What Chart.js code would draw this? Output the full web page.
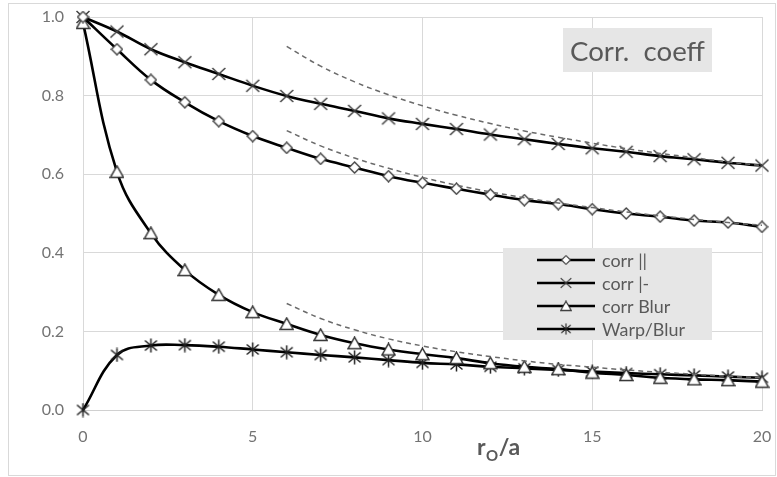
<!DOCTYPE html>
<html><head><meta charset="utf-8">
<script src="https://cdn.jsdelivr.net/npm/chart.js@4/dist/chart.umd.min.js"></script>
<style>html,body{margin:0;padding:0;background:#fff}#c{display:block}</style>
</head><body>
<canvas id="c" width="777" height="477"></canvas>
<script>
// ---- data ----
const xValues = [0,1,2,3,4,5,6,7,8,9,10,11,12,13,14,15,16,17,18,19,20];
const corrPar  = [1.0,0.918,0.840,0.783,0.735,0.697,0.667,0.639,0.617,0.595,0.578,0.563,0.548,0.534,0.524,0.511,0.500,0.492,0.482,0.477,0.466];
const corrPerp = [1.0,0.963,0.918,0.885,0.855,0.825,0.799,0.779,0.761,0.742,0.728,0.715,0.701,0.689,0.677,0.666,0.657,0.646,0.638,0.629,0.622];
const corrBlur = [0.985,0.606,0.450,0.356,0.293,0.249,0.219,0.191,0.170,0.154,0.142,0.132,0.119,0.110,0.104,0.095,0.089,0.082,0.078,0.076,0.072];
const warpBlur = [0.0,0.140,0.164,0.165,0.161,0.154,0.147,0.140,0.134,0.127,0.120,0.116,0.110,0.106,0.102,0.098,0.094,0.091,0.088,0.085,0.082];
const asymX    = [6,7,8,9,10,11,12,13,14,15,16,17,18,19,20];
const asymPerp = [0.925,0.875,0.835,0.802,0.774,0.750,0.729,0.710,0.694,0.679,0.665,0.653,0.642,0.631,0.622];
const asymPar  = [0.711,0.672,0.641,0.615,0.592,0.572,0.555,0.540,0.527,0.515,0.504,0.494,0.485,0.477,0.470];
const asymBlur = [0.271,0.233,0.204,0.181,0.163,0.148,0.136,0.125,0.116,0.109,0.102,0.096,0.091,0.086,0.082];
const seriesNames = ['corr ||','corr |-','corr Blur','Warp/Blur'];
const yTickValues = [0,0.2,0.4,0.6,0.8,1.0];
const xTickValues = [0,5,10,15,20];
const chartTitle = 'Corr.  coeff';

// ---- marker images ----
function mk(w,h,draw){const c=document.createElement('canvas');c.width=w;c.height=h;const g=c.getContext('2d');draw(g);return c;}
const mDiamond = mk(13,13,g=>{g.beginPath();g.moveTo(6.5,1);g.lineTo(12,6.5);g.lineTo(6.5,12);g.lineTo(1,6.5);g.closePath();g.fillStyle='#fff';g.fill();g.strokeStyle='#404040';g.lineWidth=1.4;g.stroke();});
const mCross = mk(16,16,g=>{g.strokeStyle='#404040';g.lineWidth=1.5;g.beginPath();g.moveTo(1.5,2);g.lineTo(14.5,14);g.moveTo(14.5,2);g.lineTo(1.5,14);g.stroke();});
const mTri = mk(15,14,g=>{g.beginPath();g.moveTo(7.5,1);g.lineTo(14,12.5);g.lineTo(1,12.5);g.closePath();g.fillStyle='#fff';g.fill();g.strokeStyle='#303030';g.lineWidth=1.5;g.stroke();});
const mStar = mk(15,15,g=>{g.strokeStyle='#202020';g.lineWidth=1.5;g.beginPath();g.moveTo(7.5,0.5);g.lineTo(7.5,14.5);g.moveTo(1.5,2.5);g.lineTo(13.5,12.5);g.moveTo(13.5,2.5);g.lineTo(1.5,12.5);g.stroke();});
const markers = [mDiamond,mCross,mTri,mStar];

const pts = (xs,ys)=>xs.map((x,i)=>({x:x,y:ys[i]}));
function solid(label,ys,marker){return {label:label,data:pts(xValues,ys),borderColor:'#000',borderWidth:2.6,pointStyle:marker,pointRadius:6,tension:0.4,clip:false,order:1};}
function dashed(ys){return {label:'',data:pts(asymX,ys),borderColor:'#6a6a6a',borderWidth:1.5,borderDash:[5,4],pointRadius:0,tension:0.4,clip:false,order:0};}

function fitSize(c,text,weight,family,target){
  c.font=weight+' 20px '+family;const w=c.measureText(text).width;return 20*target/w;
}

const deco = {
  id:'deco',
  beforeDraw(chart){
    const c=chart.ctx;c.save();c.fillStyle='#fff';c.fillRect(0,0,chart.width,chart.height);
    c.strokeStyle='#d9d9d9';c.lineWidth=1;c.strokeRect(8.5,3.5,767,472);c.restore();
  },
  afterDraw(chart){
    const c=chart.ctx;c.save();
    c.textAlign='left';
    // title box
    c.fillStyle='#e6e6e6';c.fillRect(563,28,149,44);
    const ts=Math.min(30,fitSize(c,chartTitle,'normal','Lato',135));
    c.fillStyle='#595959';c.font=ts.toFixed(2)+'px Lato';c.textBaseline='alphabetic';
    c.fillText(chartTitle,570,61);
    // legend box
    c.fillStyle='#e6e6e6';c.fillRect(503,248,209,92);
    const ls=Math.min(20,fitSize(c,'Warp/Blur','normal','Lato',83));
    const rows=[260,283,306,329];
    for(let i=0;i<4;i++){
      const y=rows[i];
      c.strokeStyle='#000';c.lineWidth=2.6;c.beginPath();c.moveTo(537,y);c.lineTo(595,y);c.stroke();
      const m=markers[i];const s=0.8;
      c.drawImage(m,566-m.width*s/2,y-m.height*s/2,m.width*s,m.height*s);
      c.fillStyle='#595959';c.font=ls.toFixed(2)+'px Lato';c.textBaseline='middle';
      c.fillText(seriesNames[i],602,y+1);
    }
    // axis title r_O/a
    c.fillStyle='#595959';c.textBaseline='alphabetic';
    c.font='bold 23px Lato';c.fillText('r',477,455);
    let x=477+c.measureText('r').width+0.5;
    c.font='bold 15px Lato';c.fillText('O',x,461);
    x+=c.measureText('O').width+0.5;
    c.font='bold 23px Lato';c.fillText('/a',x,455);
    c.restore();
  }
};

new Chart(document.getElementById('c'),{
  type:'line',
  data:{datasets:[
    solid(seriesNames[0],corrPar,mDiamond),
    solid(seriesNames[1],corrPerp,mCross),
    solid(seriesNames[2],corrBlur,mTri),
    solid(seriesNames[3],warpBlur,mStar),
    dashed(asymPerp),dashed(asymPar),dashed(asymBlur)
  ]},
  options:{
    responsive:false,animation:false,events:[],
    layout:{padding:{top:17,right:15,left:0,bottom:0}},
    plugins:{legend:{display:false},tooltip:{enabled:false},title:{display:false}},
    scales:{
      x:{type:'linear',min:0,max:20,
        afterBuildTicks(s){s.ticks=xTickValues.map(v=>({value:v}));},
        afterFit(s){s.height=67;s.paddingLeft=0;s.paddingRight=0;},
        grid:{color:'#d9d9d9',drawTicks:false},border:{color:'#d0d0d0'},
        ticks:{color:'#737373',font:{family:'Lato',size:16},padding:17}},
      y:{min:0,max:1,
        afterBuildTicks(s){s.ticks=yTickValues.map(v=>({value:v}));},
        afterFit(s){s.width=83;s.paddingTop=0;s.paddingBottom=0;},
        grid:{color:'#d9d9d9',drawTicks:false},border:{color:'#d9d9d9'},
        ticks:{color:'#737373',font:{family:'Lato',size:16},padding:19,callback:v=>v.toFixed(1)}}
    }
  },
  plugins:[deco]
});
</script>
</body></html>
